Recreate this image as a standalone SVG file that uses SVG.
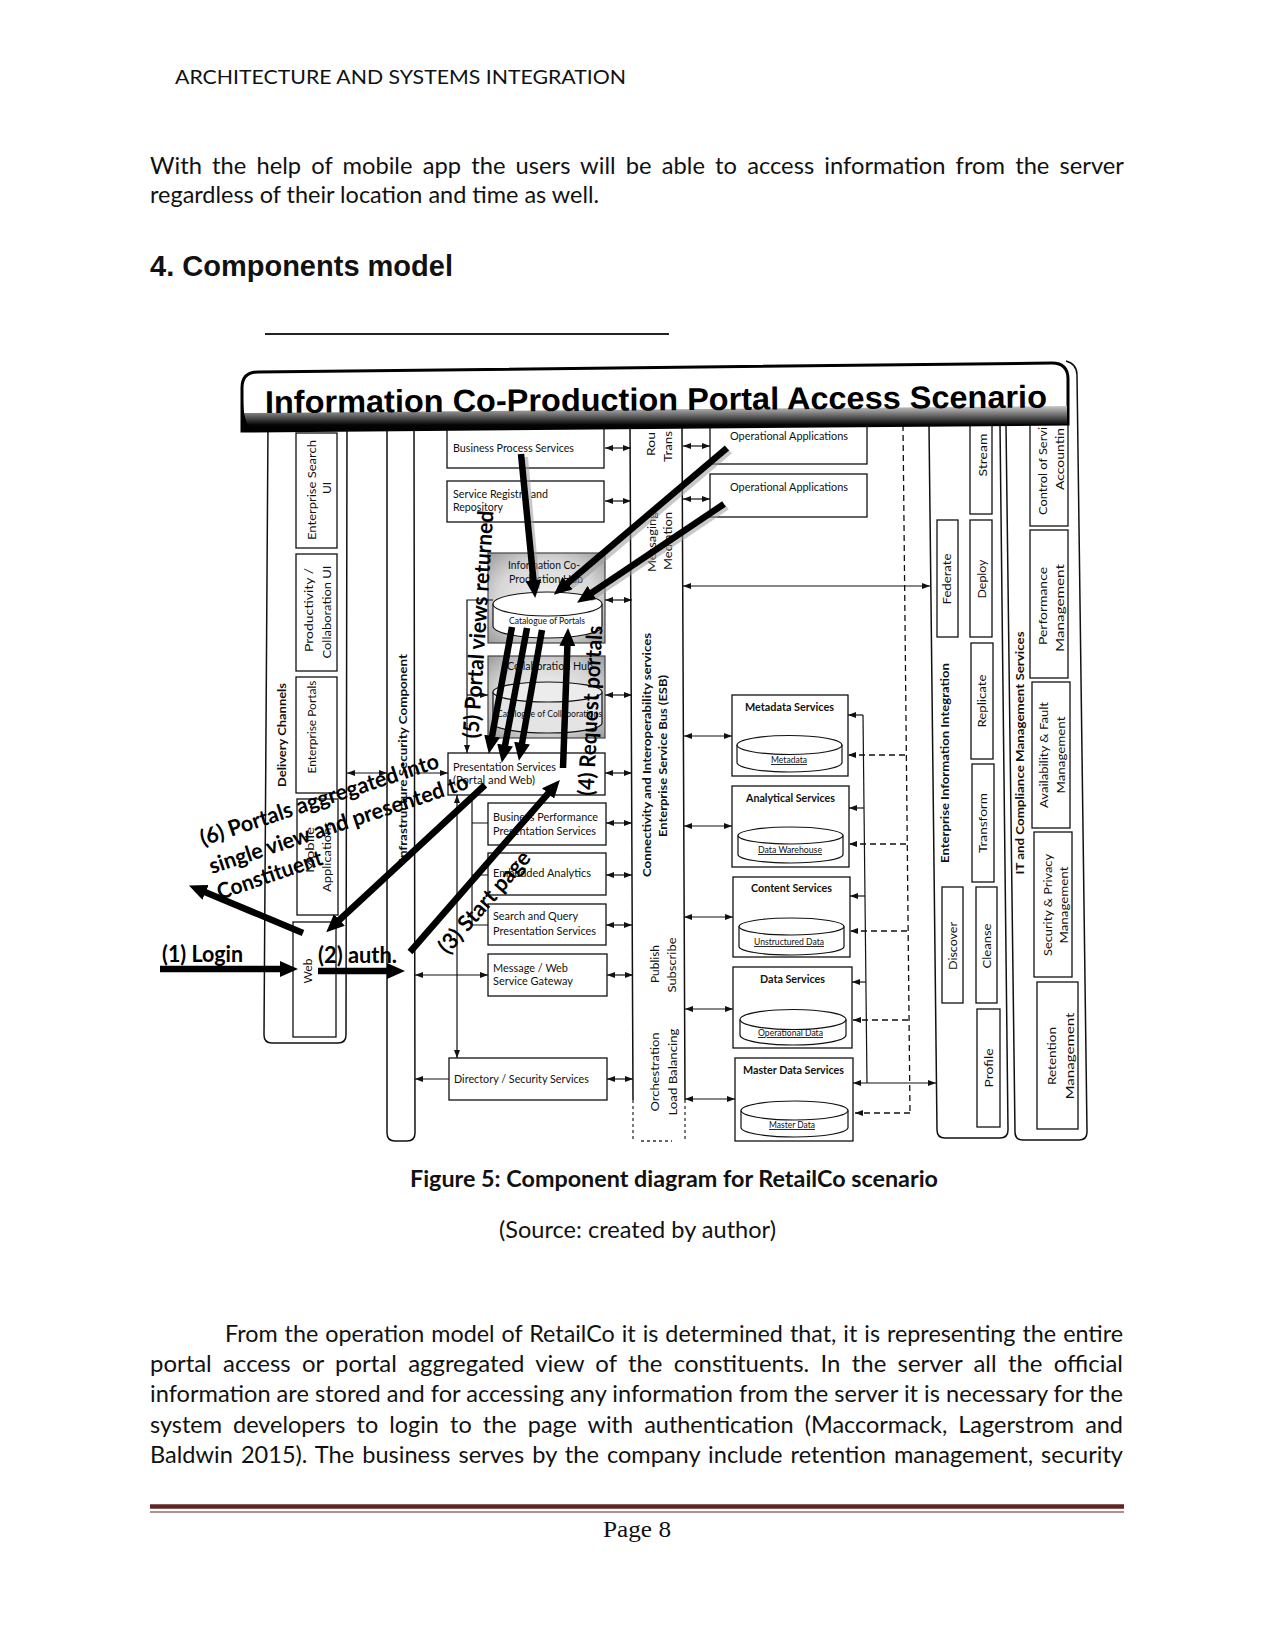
<svg xmlns="http://www.w3.org/2000/svg" width="1275" height="1650" viewBox="0 0 1275 1650">
<defs>
<style>
text{font-family:Lato,'Liberation Sans',sans-serif;fill:#111}
.p{font-size:23px}
.pb{font-size:23px;font-weight:700}
.d{font-size:11px}
.db{font-size:11px;font-weight:700}
.s9{font-size:9px}
.u{text-decoration:underline}
.v{font-size:12px}
.vb{font-size:12px;font-weight:700}
.ann{font-size:22px;font-weight:700;fill:#000}
.box{fill:#fff;stroke:#111;stroke-width:1.3}
.col{fill:none;stroke:#111;stroke-width:1.5}
.c{stroke:#111;stroke-width:1.2;fill:none}
.ds{stroke:#111;stroke-width:1.3;stroke-dasharray:6 4;fill:none}
.big{stroke:#000;stroke-width:6.5;fill:none}
.sh{stroke:#9a9a9a;stroke-width:6;fill:none;opacity:.55}
.cyl{fill:#fff;stroke:#111;stroke-width:1.2}
</style>
<radialGradient id="hub" cx="0.5" cy="0.5" r="0.7">
<stop offset="0" stop-color="#f4f4f4"/><stop offset="0.6" stop-color="#d6d6d6"/><stop offset="1" stop-color="#9c9c9c"/>
</radialGradient>
<linearGradient id="band" x1="0" y1="0" x2="0" y2="1">
<stop offset="0" stop-color="#c8c8c8"/><stop offset="0.45" stop-color="#555"/><stop offset="0.75" stop-color="#050505"/><stop offset="1" stop-color="#000"/>
</linearGradient>
<marker id="a" viewBox="0 0 8 6" refX="8" refY="3" markerWidth="8" markerHeight="6" markerUnits="userSpaceOnUse" orient="auto-start-reverse"><path d="M0,0L8,3L0,6z" fill="#111"/></marker>
<marker id="h" viewBox="0 0 18 16" refX="6" refY="8" markerWidth="18" markerHeight="16" markerUnits="userSpaceOnUse" orient="auto"><path d="M0,0L18,8L0,16z" fill="#000"/></marker>
</defs>

<rect width="1275" height="1650" fill="#fff"/>

<!-- page text -->
<g id="page-top">
<text x="175" y="84" font-size="19" textLength="451" lengthAdjust="spacingAndGlyphs">ARCHITECTURE AND SYSTEMS INTEGRATION</text>
<text class="p" x="150" y="174" style="word-spacing:4px" textLength="974" lengthAdjust="spacingAndGlyphs">With the help of mobile app the users will be able to access information from the server</text>
<text class="p" x="150" y="203" textLength="449" lengthAdjust="spacingAndGlyphs">regardless of their location and time as well.</text>
<text x="150" y="276" style="font-family:'Liberation Sans',Arial,sans-serif;font-size:29px;font-weight:700" textLength="303" lengthAdjust="spacingAndGlyphs">4. Components model</text>
<line x1="265" y1="334" x2="669" y2="334" stroke="#222" stroke-width="2.2"/>
</g>

<!-- columns -->
<g id="columns">
<g id="delivery-channels"><path class="col" d="M268,425 L264,1035 Q264,1043 272,1043 L338,1043 Q346,1043 346,1035 L347,425"/>
<text class="vb" text-anchor="middle" transform="translate(286,735) rotate(-90)" textLength="104" lengthAdjust="spacingAndGlyphs">Delivery Channels</text></g>
<g id="infrastructure-security"><path class="col" d="M387,425 L387,1133 Q387,1141 395,1141 L407,1141 Q415,1141 415,1133 L414,425"/>
<text class="vb" text-anchor="middle" transform="translate(407,758) rotate(-90)" textLength="208" lengthAdjust="spacingAndGlyphs">Infrastructure Security Component</text></g>
<g id="esb"><path class="col" d="M630,425 L633,1100 M682,425 L685,1100"/>
<path d="M633,1100 V1140 M685,1100 V1140 M641,1141 H672" stroke="#333" stroke-width="1.3" stroke-dasharray="3 3" fill="none"/>
<text class="v" transform="translate(655,456) rotate(-90)" textLength="24" lengthAdjust="spacingAndGlyphs">Rou</text>
<text class="v" transform="translate(672,462) rotate(-90)" textLength="31" lengthAdjust="spacingAndGlyphs">Trans</text>
<text class="v" transform="translate(656,572) rotate(-90)" textLength="60" lengthAdjust="spacingAndGlyphs">Messaging</text>
<text class="v" transform="translate(672,570) rotate(-90)" textLength="58" lengthAdjust="spacingAndGlyphs">Mediation</text>
<text class="vb" text-anchor="middle" transform="translate(651,755) rotate(-90)" textLength="244" lengthAdjust="spacingAndGlyphs">Connectivity and Interoperability services</text>
<text class="vb" text-anchor="middle" transform="translate(667,756) rotate(-90)" textLength="162" lengthAdjust="spacingAndGlyphs">Enterprise Service Bus (ESB)</text>
<text class="v" text-anchor="middle" transform="translate(659,964) rotate(-90)" textLength="38" lengthAdjust="spacingAndGlyphs">Publish</text>
<text class="v" text-anchor="middle" transform="translate(676,965) rotate(-90)" textLength="55" lengthAdjust="spacingAndGlyphs">Subscribe</text>
<text class="v" text-anchor="middle" transform="translate(659,1072) rotate(-90)" textLength="79" lengthAdjust="spacingAndGlyphs">Orchestration</text>
<text class="v" text-anchor="middle" transform="translate(677,1072) rotate(-90)" textLength="87" lengthAdjust="spacingAndGlyphs">Load Balancing</text></g>
<g id="eii"><path class="col" d="M929,425 L937,1130 Q937,1138 945,1138 L1000,1138 Q1008,1138 1008,1130 L1000,425"/>
<text class="vb" text-anchor="middle" transform="translate(949,763) rotate(-90)" textLength="200" lengthAdjust="spacingAndGlyphs">Enterprise Information Integration</text></g>
<g id="itcms"><path class="col" d="M1006,425 L1015,1132 Q1015,1140 1023,1140 L1079,1140 Q1087,1140 1087,1132 L1077,375 Q1077,364 1066,361"/>
<text class="vb" text-anchor="middle" transform="translate(1024,753) rotate(-90)" textLength="243" lengthAdjust="spacingAndGlyphs">IT and Compliance Management Services</text></g>
</g>

<!-- delivery channel boxes -->
<g id="enterprise-search-ui"><rect class="box" x="296" y="433" width="41" height="115"/>
<text class="v" text-anchor="middle" transform="translate(316,490) rotate(-90)" textLength="100" lengthAdjust="spacingAndGlyphs">Enterprise Search</text>
<text class="v" text-anchor="middle" transform="translate(331,488) rotate(-90)">UI</text></g>
<g id="productivity-ui"><rect class="box" x="296" y="554" width="41" height="117"/>
<text class="v" text-anchor="middle" transform="translate(313,610) rotate(-90)" textLength="84" lengthAdjust="spacingAndGlyphs">Productivity /</text>
<text class="v" text-anchor="middle" transform="translate(331,612) rotate(-90)" textLength="93" lengthAdjust="spacingAndGlyphs">Collaboration UI</text></g>
<g id="enterprise-portals"><rect class="box" x="296" y="677" width="41" height="116"/>
<text class="v" text-anchor="middle" transform="translate(316,727) rotate(-90)" textLength="93" lengthAdjust="spacingAndGlyphs">Enterprise Portals</text></g>
<g id="mobile-applications"><rect class="box" x="297" y="799" width="41" height="116"/>
<text class="v" text-anchor="middle" transform="translate(314,850) rotate(-90)" textLength="46" lengthAdjust="spacingAndGlyphs">Mobile</text>
<text class="v" text-anchor="middle" transform="translate(331,857) rotate(-90)" textLength="70" lengthAdjust="spacingAndGlyphs">Applications</text></g>
<g id="web"><rect class="box" x="293" y="922" width="43" height="115"/>
<text class="v" text-anchor="middle" transform="translate(312,971) rotate(-90)">Web</text></g>

<!-- middle boxes -->
<g id="business-process-services"><rect class="box" x="447" y="420" width="157" height="48"/>
<text class="d" x="453" y="452" textLength="121" lengthAdjust="spacingAndGlyphs">Business Process Services</text></g>
<g id="service-registry"><rect class="box" x="447" y="481" width="157" height="41"/>
<text class="d" x="453" y="498" textLength="95" lengthAdjust="spacingAndGlyphs">Service Registry and</text>
<text class="d" x="453" y="511" textLength="50" lengthAdjust="spacingAndGlyphs">Repository</text></g>
<g id="info-coproduction-hub"><rect x="488" y="553" width="117" height="90" fill="url(#hub)" stroke="#444" stroke-width="1.2"/>
<text class="d" x="508" y="569" textLength="72" lengthAdjust="spacingAndGlyphs">Information Co-</text>
<text class="d" x="509" y="583" textLength="74" lengthAdjust="spacingAndGlyphs">Production Hub</text>
<path class="cyl" d="M493,604 V626 A54.5,12 0 0 0 602,626 V604"/>
<ellipse class="cyl" cx="547.5" cy="604" rx="54.5" ry="12"/>
<text class="s9" x="509" y="624" textLength="76" lengthAdjust="spacingAndGlyphs">Catalogue of Portals</text></g>
<g id="collaboration-hub"><rect x="488" y="656" width="117" height="82" fill="url(#hub)" stroke="#444" stroke-width="1.2"/>
<text class="d" x="507" y="670" textLength="86" lengthAdjust="spacingAndGlyphs">Collaboration Hub</text>
<path d="M493,692 V723 A54.5,10 0 0 0 602,723 V692" fill="#e4e4e4" stroke="#111" stroke-width="1.2"/>
<ellipse cx="547.5" cy="692" rx="54.5" ry="10" fill="#ececec" stroke="#111" stroke-width="1.2"/>
<text class="s9" x="497" y="717" textLength="105" lengthAdjust="spacingAndGlyphs">Catalogue of Collaborations</text></g>
<g id="presentation-services"><rect class="box" x="448" y="753" width="157" height="42"/>
<text class="d" x="453" y="771" textLength="103" lengthAdjust="spacingAndGlyphs">Presentation Services</text>
<text class="d" x="453" y="784" textLength="82" lengthAdjust="spacingAndGlyphs">(Portal and Web)</text></g>
<g id="business-performance"><rect class="box" x="488" y="803" width="118" height="42"/>
<text class="d" x="493" y="821" textLength="105" lengthAdjust="spacingAndGlyphs">Business Performance</text>
<text class="d" x="493" y="835" textLength="103" lengthAdjust="spacingAndGlyphs">Presentation Services</text></g>
<g id="embedded-analytics"><rect class="box" x="488" y="853" width="118" height="42"/>
<text class="d" x="493" y="877" textLength="98" lengthAdjust="spacingAndGlyphs">Embedded Analytics</text></g>
<g id="search-query"><rect class="box" x="488" y="904" width="118" height="41"/>
<text class="d" x="493" y="920" textLength="85" lengthAdjust="spacingAndGlyphs">Search and Query</text>
<text class="d" x="493" y="935" textLength="103" lengthAdjust="spacingAndGlyphs">Presentation Services</text></g>
<g id="message-web-gateway"><rect class="box" x="488" y="954" width="119" height="42"/>
<text class="d" x="493" y="972" textLength="75" lengthAdjust="spacingAndGlyphs">Message / Web</text>
<text class="d" x="493" y="985" textLength="80" lengthAdjust="spacingAndGlyphs">Service Gateway</text></g>
<g id="directory-security"><rect class="box" x="449" y="1058" width="158" height="42"/>
<text class="d" x="454" y="1083" textLength="135" lengthAdjust="spacingAndGlyphs">Directory / Security Services</text></g>

<!-- right side boxes -->
<g id="operational-apps-1"><rect class="box" x="710" y="420" width="157" height="44"/>
<text class="d" x="730" y="440" textLength="118" lengthAdjust="spacingAndGlyphs">Operational Applications</text></g>
<g id="operational-apps-2"><rect class="box" x="710" y="474" width="157" height="43"/>
<text class="d" x="730" y="491" textLength="118" lengthAdjust="spacingAndGlyphs">Operational Applications</text></g>
<g id="metadata-services"><rect class="box" x="732" y="695" width="116" height="81"/>
<text class="db" x="745" y="711" textLength="89" lengthAdjust="spacingAndGlyphs">Metadata Services</text>
<path class="cyl" d="M737,745 V762.5 A52.5,9.5 0 0 0 842,762.5 V745"/><ellipse class="cyl" cx="789.5" cy="745" rx="52.5" ry="9.5"/>
<text class="s9 u" x="771" y="763" textLength="36" lengthAdjust="spacingAndGlyphs">Metadata</text></g>
<g id="analytical-services"><rect class="box" x="732" y="786" width="117" height="81"/>
<text class="db" x="746" y="802" textLength="89" lengthAdjust="spacingAndGlyphs">Analytical Services</text>
<path class="cyl" d="M738,835.5 V854.5 A52.5,8.5 0 0 0 843,854.5 V835.5"/><ellipse class="cyl" cx="790.5" cy="835.5" rx="52.5" ry="8.5"/>
<text class="s9 u" x="758" y="853" textLength="64" lengthAdjust="spacingAndGlyphs">Data Warehouse</text></g>
<g id="content-services"><rect class="box" x="733" y="877" width="117" height="80"/>
<text class="db" x="751" y="892" textLength="81" lengthAdjust="spacingAndGlyphs">Content Services</text>
<path class="cyl" d="M739,926.5 V946.5 A52.5,8.5 0 0 0 844,946.5 V926.5"/><ellipse class="cyl" cx="791.5" cy="926.5" rx="52.5" ry="8.5"/>
<text class="s9 u" x="754" y="945" textLength="70" lengthAdjust="spacingAndGlyphs">Unstructured Data</text></g>
<g id="data-services"><rect class="box" x="733" y="967" width="119" height="81"/>
<text class="db" x="760" y="983" textLength="65" lengthAdjust="spacingAndGlyphs">Data Services</text>
<path class="cyl" d="M740,1019.5 V1035 A53,10 0 0 0 846,1035 V1019.5"/><ellipse class="cyl" cx="793" cy="1019.5" rx="53" ry="10"/>
<text class="s9 u" x="758" y="1036" textLength="65" lengthAdjust="spacingAndGlyphs">Operational Data</text></g>
<g id="master-data-services"><rect class="box" x="735" y="1058" width="118" height="83"/>
<text class="db" x="743" y="1074" textLength="101" lengthAdjust="spacingAndGlyphs">Master Data Services</text>
<path class="cyl" d="M741,1110.5 V1127.5 A53.5,9.5 0 0 0 848,1127.5 V1110.5"/><ellipse class="cyl" cx="794.5" cy="1110.5" rx="53.5" ry="9.5"/>
<text class="s9 u" x="769" y="1128" textLength="46" lengthAdjust="spacingAndGlyphs">Master Data</text></g>

<!-- EII boxes -->
<g id="stream"><rect class="box" x="970" y="420" width="22" height="94"/><text class="v" text-anchor="middle" transform="translate(987,455) rotate(-90)" textLength="43" lengthAdjust="spacingAndGlyphs">Stream</text></g>
<g id="federate"><rect class="box" x="937" y="520" width="21" height="117"/><text class="v" text-anchor="middle" transform="translate(951,579) rotate(-90)" textLength="51" lengthAdjust="spacingAndGlyphs">Federate</text></g>
<g id="deploy"><rect class="box" x="970" y="520" width="22" height="117"/><text class="v" text-anchor="middle" transform="translate(986,579) rotate(-90)" textLength="39" lengthAdjust="spacingAndGlyphs">Deploy</text></g>
<g id="replicate"><rect class="box" x="971" y="643" width="22" height="116"/><text class="v" text-anchor="middle" transform="translate(986,701) rotate(-90)" textLength="53" lengthAdjust="spacingAndGlyphs">Replicate</text></g>
<g id="transform"><rect class="box" x="972" y="764" width="22" height="118"/><text class="v" text-anchor="middle" transform="translate(987,823) rotate(-90)" textLength="60" lengthAdjust="spacingAndGlyphs">Transform</text></g>
<g id="discover"><rect class="box" x="942" y="887" width="21" height="116"/><text class="v" text-anchor="middle" transform="translate(957,946) rotate(-90)" textLength="48" lengthAdjust="spacingAndGlyphs">Discover</text></g>
<g id="cleanse"><rect class="box" x="976" y="887" width="21" height="116"/><text class="v" text-anchor="middle" transform="translate(991,946) rotate(-90)" textLength="45" lengthAdjust="spacingAndGlyphs">Cleanse</text></g>
<g id="profile"><rect class="box" x="977" y="1009" width="23" height="118"/><text class="v" text-anchor="middle" transform="translate(993,1068) rotate(-90)" textLength="39" lengthAdjust="spacingAndGlyphs">Profile</text></g>

<!-- ITCMS boxes -->
<g id="control-of-service"><rect class="box" x="1030" y="420" width="38" height="106"/>
<text class="v" transform="translate(1047,515) rotate(-90)" textLength="88" lengthAdjust="spacingAndGlyphs">Control of Servi</text>
<text class="v" transform="translate(1064,490) rotate(-90)" textLength="62" lengthAdjust="spacingAndGlyphs">Accountin</text></g>
<g id="performance-management"><rect class="box" x="1030" y="530" width="38" height="148"/>
<text class="v" text-anchor="middle" transform="translate(1047,606) rotate(-90)" textLength="78" lengthAdjust="spacingAndGlyphs">Performance</text>
<text class="v" text-anchor="middle" transform="translate(1064,608) rotate(-90)" textLength="88" lengthAdjust="spacingAndGlyphs">Management</text></g>
<g id="availability-fault"><rect class="box" x="1032" y="682" width="38" height="146"/>
<text class="v" text-anchor="middle" transform="translate(1048,755) rotate(-90)" textLength="106" lengthAdjust="spacingAndGlyphs">Availability &amp; Fault</text>
<text class="v" text-anchor="middle" transform="translate(1065,755) rotate(-90)" textLength="77" lengthAdjust="spacingAndGlyphs">Management</text></g>
<g id="security-privacy"><rect class="box" x="1034" y="832" width="38" height="145"/>
<text class="v" text-anchor="middle" transform="translate(1052,905) rotate(-90)" textLength="102" lengthAdjust="spacingAndGlyphs">Security &amp; Privacy</text>
<text class="v" text-anchor="middle" transform="translate(1068,905) rotate(-90)" textLength="77" lengthAdjust="spacingAndGlyphs">Management</text></g>
<g id="retention-management"><rect class="box" x="1037" y="982" width="41" height="147"/>
<text class="v" text-anchor="middle" transform="translate(1056,1056) rotate(-90)" textLength="58" lengthAdjust="spacingAndGlyphs">Retention</text>
<text class="v" text-anchor="middle" transform="translate(1074,1056) rotate(-90)" textLength="87" lengthAdjust="spacingAndGlyphs">Management</text></g>

<!-- thin connectors -->
<g id="connectors">
<g class="c" marker-start="url(#a)" marker-end="url(#a)">
<line x1="605" y1="448" x2="631" y2="448"/><line x1="605" y1="501" x2="631" y2="501"/>
<line x1="605" y1="600" x2="632" y2="600"/><line x1="605" y1="695" x2="632" y2="695"/>
<line x1="605" y1="773" x2="632" y2="773"/><line x1="606" y1="823" x2="632" y2="823"/>
<line x1="606" y1="875" x2="632" y2="875"/><line x1="606" y1="925" x2="632" y2="925"/>
<line x1="607" y1="975" x2="633" y2="975"/><line x1="607" y1="1079" x2="633" y2="1079"/>
<line x1="683" y1="446" x2="710" y2="446"/><line x1="683" y1="499" x2="710" y2="499"/>
<line x1="683" y1="586" x2="930" y2="586"/>
<line x1="684" y1="736" x2="732" y2="736"/><line x1="684" y1="826" x2="732" y2="826"/>
<line x1="684" y1="917" x2="733" y2="917"/><line x1="685" y1="1009" x2="733" y2="1009"/>
<line x1="685" y1="1099" x2="735" y2="1099"/>
<line x1="347" y1="773" x2="387" y2="773"/>
<line x1="415" y1="975" x2="488" y2="975"/>
<line x1="457" y1="795" x2="457" y2="1058"/>
<line x1="853" y1="1083" x2="936" y2="1083"/>
</g>
<g class="c" marker-end="url(#a)">
<line x1="415" y1="773" x2="448" y2="773"/>
<line x1="449" y1="1079" x2="415" y2="1079"/>
<polyline points="493,600 467,600 467,753"/>
<line x1="467" y1="695" x2="488" y2="695"/>
<line x1="863" y1="715" x2="848" y2="715"/><line x1="864" y1="808" x2="849" y2="808"/>
<line x1="865" y1="896" x2="850" y2="896"/><line x1="866" y1="982" x2="852" y2="982"/>
</g>
<path class="c" d="M472,795 V925 M472,823 H488 M472,875 H488 M472,925 H488"/>
<line class="c" x1="863" y1="715" x2="867" y2="1083"/>
<line class="ds" x1="903" y1="425" x2="910" y2="1113"/>
<g class="ds" marker-end="url(#a)">
<line x1="905" y1="755" x2="848" y2="755"/><line x1="906" y1="844" x2="849" y2="844"/>
<line x1="907" y1="931" x2="850" y2="931"/><line x1="908" y1="1020" x2="853" y2="1020"/>
<line x1="910" y1="1113" x2="855" y2="1113"/>
</g>
</g>

<!-- title banner -->
<g id="title-banner">
<path d="M242,388 Q242,372 258,372 L1052,363 Q1068,363 1068,379 L1068,424 L242,431 Z" fill="#fff" stroke="#000" stroke-width="3"/>
<path d="M243,413 L1067,406 L1067,424 Q1000,425 243,431 Z" fill="url(#band)"/>
<path d="M243,398 Q243,425 254,431 L243,431 Z" fill="#000"/>
<text x="265" y="413" transform="rotate(-0.4 265 413)" style="font-family:'Liberation Sans',Arial,sans-serif;font-size:31.6px;font-weight:700;fill:#000" textLength="782" lengthAdjust="spacingAndGlyphs">Information Co-Production Portal Access Scenario</text>
</g>

<!-- annotation arrows -->
<g id="annotation-arrows">
<line class="sh" x1="525" y1="457" x2="537" y2="589"/>
<line class="sh" x1="730" y1="451" x2="567" y2="590"/>
<line class="sh" x1="727" y1="507" x2="590" y2="599"/>
<g class="big" marker-end="url(#h)">
<line x1="160" y1="969" x2="286" y2="969"/>
<line x1="318" y1="971" x2="393" y2="971"/>
<line x1="410" y1="952" x2="552" y2="789"/>
<line x1="563" y1="768" x2="567.6" y2="640"/>
<line x1="512" y1="627" x2="491" y2="742"/>
<line x1="527" y1="628" x2="504" y2="751"/>
<line x1="542" y1="630" x2="521" y2="749"/>
<line x1="485" y1="785" x2="335" y2="924"/>
<line x1="303" y1="933" x2="200" y2="890"/>
<line x1="521" y1="454" x2="534" y2="586"/>
<line x1="727" y1="448" x2="563" y2="587"/>
<line x1="724" y1="504" x2="587" y2="596"/>
</g>
</g>

<!-- annotation labels -->
<g id="annotation-labels">
<text class="ann" x="162" y="962" textLength="81" lengthAdjust="spacingAndGlyphs">(1) Login</text>
<text class="ann" x="318" y="963" textLength="79" lengthAdjust="spacingAndGlyphs">(2) auth.</text>
<text class="ann" text-anchor="middle" transform="translate(490,907) rotate(-49)" textLength="128" lengthAdjust="spacingAndGlyphs">(3) Start page</text>
<text class="ann" text-anchor="middle" transform="translate(598,711) rotate(-87)" textLength="170" lengthAdjust="spacingAndGlyphs">(4) Request portals</text>
<text class="ann" text-anchor="middle" transform="translate(486,625) rotate(-86.2)" textLength="228" lengthAdjust="spacingAndGlyphs">(5) Portal views returned</text>
<text class="ann" transform="translate(203,846) rotate(-18.3)" textLength="250" lengthAdjust="spacingAndGlyphs">(6) Portals aggregated into</text>
<text class="ann" transform="translate(212,874) rotate(-18.4)" textLength="272" lengthAdjust="spacingAndGlyphs">single view and presented to</text>
<text class="ann" transform="translate(220,900) rotate(-19)" textLength="110" lengthAdjust="spacingAndGlyphs">Constituent</text>
</g>

<!-- caption and body -->
<g id="page-bottom">
<text class="pb" x="410" y="1187" textLength="528" lengthAdjust="spacingAndGlyphs">Figure 5: Component diagram for RetailCo scenario</text>
<text class="p" x="499" y="1238" textLength="277" lengthAdjust="spacingAndGlyphs">(Source: created by author)</text>
<text class="p" x="225" y="1342" style="word-spacing:1px" textLength="898" lengthAdjust="spacingAndGlyphs">From the operation model of RetailCo it is determined that, it is representing the entire</text>
<text class="p" x="150" y="1372" style="word-spacing:5px" textLength="973" lengthAdjust="spacingAndGlyphs">portal access or portal aggregated view of the constituents. In the server all the official</text>
<text class="p" x="150" y="1402" textLength="973" lengthAdjust="spacingAndGlyphs">information are stored and for accessing any information from the server it is necessary for the</text>
<text class="p" x="150" y="1433" style="word-spacing:5px" textLength="973" lengthAdjust="spacingAndGlyphs">system developers to login to the page with authentication (Maccormack, Lagerstrom and</text>
<text class="p" x="150" y="1463" style="word-spacing:2px" textLength="973" lengthAdjust="spacingAndGlyphs">Baldwin 2015). The business serves by the company include retention management, security</text>
<line x1="150" y1="1506.5" x2="1124" y2="1506.5" stroke="#622423" stroke-width="4.5"/>
<line x1="150" y1="1512" x2="1124" y2="1512" stroke="#622423" stroke-width="1.2"/>
<text x="603" y="1537" style="font-family:'Liberation Serif','Times New Roman',serif;font-size:24px" textLength="68" lengthAdjust="spacingAndGlyphs">Page 8</text>
</g>
</svg>
